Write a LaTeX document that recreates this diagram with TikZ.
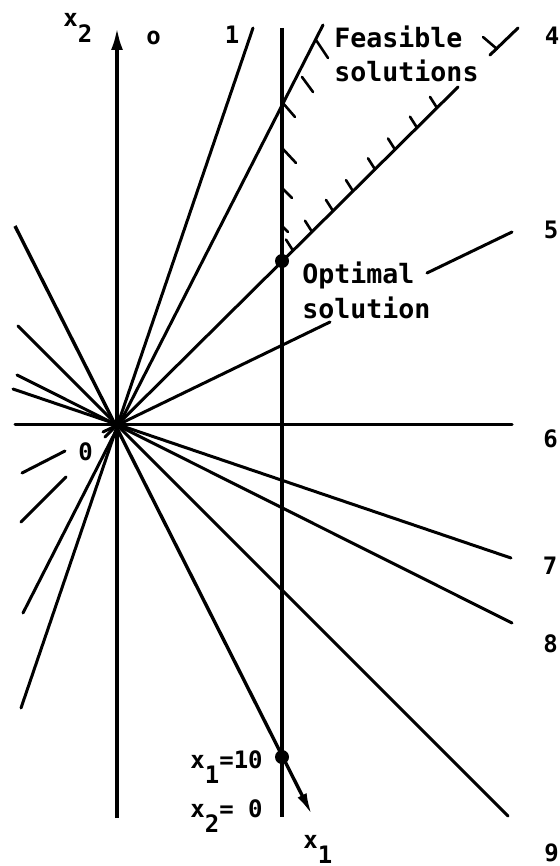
\documentclass[tikz,border=0pt]{standalone}
\usepackage{fontspec}
\setmonofont{DejaVu Sans Mono}
\usetikzlibrary{arrows.meta,calc}
\begin{document}
\begin{tikzpicture}[x=0.5pt,y=-0.5pt,
  ln/.style={line width=1.5pt,line cap=round},
  ax/.style={line width=1.7pt},
  hatch/.style={line width=1.3pt,line cap=round},
  dot/.style={circle,fill=black,inner sep=0pt,minimum size=7pt},
  txt/.style={font=\ttfamily\bfseries\fontsize{13.3pt}{17pt}\selectfont,inner sep=0pt,anchor=base west},
  num/.style={font=\ttfamily\bfseries\fontsize{12pt}{14pt}\selectfont,inner sep=0pt}]
\useasboundingbox[fill=white] (0,0) rectangle (560,866);

% origin
\coordinate (O) at (117,425);

% axes
\coordinate (x2b) at (117,818); \coordinate (x2t) at (117,28);
\draw[ax,-{Latex[length=11pt,width=6pt]}] (x2b) -- (x2t);
\coordinate (x1a) at (15,226); \coordinate (x1t) at (312,815);
\draw[ax,-{Latex[length=11pt,width=5pt]}] (x1a) -- (x1t);

% constraint x1 = 10
\coordinate (vt) at (282,28); \coordinate (vb) at (282,817);
\draw[ax] (vt) -- (vb);

% lines through origin
\coordinate (l1a) at (21,708); \coordinate (l1b) at (253,28);
\draw[ln] (l1a) -- (l1b);
\coordinate (l3a) at (23,613); \coordinate (l3b) at (323,25);
\draw[ln] (l3a) -- (l3b);
% line 4 (diagonal) with gaps
\coordinate (l4s) at (105,437); \coordinate (l4e) at (458,87);
\coordinate (l4u) at (490,55); \coordinate (l4v) at (518,28);
\coordinate (l4p) at (21,522); \coordinate (l4q) at (66,477);
\draw[ln] (l4s) -- (l4e);
\draw[ln] (l4u) -- (l4v);
\draw[ln] (l4p) -- (l4q);
% line 5 with gaps
\coordinate (l5s) at (103,432); \coordinate (l5e) at (330,322);
\coordinate (l5u) at (427,273); \coordinate (l5v) at (512,232);
\coordinate (l5p) at (22,473); \coordinate (l5q) at (65,451);
\draw[ln] (l5s) -- (l5e);
\draw[ln] (l5u) -- (l5v);
\draw[ln] (l5p) -- (l5q);
% line 6
\coordinate (l6a) at (15,424); \coordinate (l6b) at (512,424);
\draw[ln] (l6a) -- (l6b);
% line 7
\coordinate (l7a) at (13,389); \coordinate (l7b) at (511,558);
\draw[ln] (l7a) -- (l7b);
% line 8
\coordinate (l8a) at (17,375); \coordinate (l8b) at (512,623);
\draw[ln] (l8a) -- (l8b);
% line 9
\coordinate (l9a) at (18,326); \coordinate (l9b) at (508,816);
\draw[ln] (l9a) -- (l9b);

% hatches on vertical constraint
\draw[hatch] (282,102) -- (295,117);
\draw[hatch] (282,148) -- (296,163);
\draw[hatch] (282,188) -- (292,198);
\draw[hatch] (282,226) -- (288,232);
% hatches on steep line
\draw[hatch] (316,40) -- (328,58);
\draw[hatch] (302,77) -- (313,92);
% hatches on diagonal
\foreach \xx in {293,312,333,353,375,395,417,437}
  \draw[hatch] (\xx-7,{425-(\xx-117)*0.991-11}) -- (\xx,{425-(\xx-117)*0.991});
\draw[hatch] (483,37) -- (497,49);

% points
\node[dot] (opt) at (282,261) {};
\node[dot] (p10) at (282,757) {};

% texts
\node[txt] (fs1) at (334,48) {Feasible};
\node[txt] (fs2) at (334,82) {solutions};
\node[txt] (os1) at (302,283) {Optimal};
\node[txt] (os2) at (302,318) {solution};

\node[num,anchor=base west] (lx2) at (63,27) {x\raisebox{-8pt}{2}};
\node[num,anchor=base west] (lx1) at (303,848) {x\raisebox{-7.5pt}{1}};
\node[num,anchor=base west] (lx110) at (190,768) {x\raisebox{-7.5pt}{1}=10};
\node[num,anchor=base west] (lx20) at (190,817) {x\raisebox{-7.5pt}{2}= 0};

\node[num] (n0) at (153.5,37.5) {o};
\node[num] (n1) at (232,35) {1};
\node[num] (n4) at (552,35.5) {4};
\node[num] (n5) at (551,229.5) {5};
\node[num] (n6) at (550.5,438.5) {6};
\node[num] (n7) at (550,566) {7};
\node[num] (n8) at (550.5,644) {8};
\node[num] (n9) at (551.5,853) {9};
\node[num] (org) at (85.5,451.5) {0};
\end{tikzpicture}
\end{document}
